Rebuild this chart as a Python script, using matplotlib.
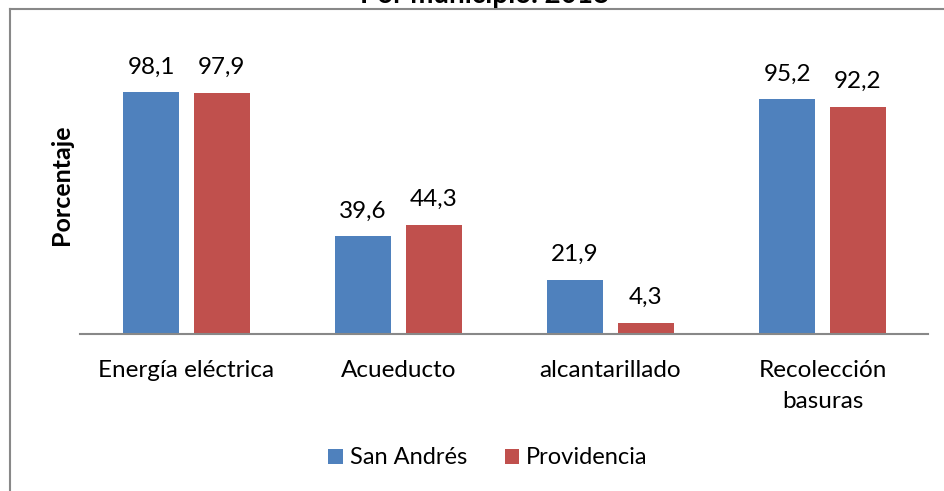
import matplotlib
matplotlib.use("Agg")
import matplotlib.pyplot as plt
from matplotlib.lines import Line2D
import numpy as np

categories = ["Energía eléctrica", "Acueducto", "alcantarillado", "Recolección\nbasuras"]
san_andres = [98.1, 39.6, 21.9, 95.2]
providencia = [97.9, 44.3, 4.3, 92.2]
series_names = ["San Andrés", "Providencia"]

plt.rcParams["font.family"] = ["Lato", "DejaVu Sans"]

W, H = 945, 491
fig = plt.figure(figsize=(W / 100, H / 100), dpi=100)
ax = fig.add_axes([80.5 / W, (H - 333.5) / H, 848 / W, 295 / H])

x = np.arange(len(categories))
bw = 0.265
off = 0.167
b1 = ax.bar(x - off, san_andres, bw, color="#4F81BD", label=series_names[0])
b2 = ax.bar(x + off, providencia, bw, color="#C0504D", label=series_names[1])

for bars, vals in ((b1, san_andres), (b2, providencia)):
    for rect, v in zip(bars, vals):
        ax.annotate(f"{v:.1f}".replace(".", ","),
                    (rect.get_x() + rect.get_width() / 2, v),
                    xytext=(0, 13.5), textcoords="offset points",
                    ha="center", va="baseline", fontsize=17.5)

ax.set_xlim(-0.5, 3.5)
ax.set_ylim(0, 120)
ax.set_yticks([])
ax.set_xticks(x)
ax.set_xticklabels(categories, fontsize=17.5, linespacing=1.6)
ax.tick_params(axis="x", length=0, pad=19)
for s in ("top", "right", "left"):
    ax.spines[s].set_visible(False)
ax.spines["bottom"].set_color("#888888")
ax.spines["bottom"].set_linewidth(1.5)

fig.text(62 / W, 1 - 185 / H, "Porcentaje", rotation=90, ha="center", va="center",
         fontsize=18, fontweight="bold")

fig.text(485 / W, 1 - 2.5 / H, "Por municipio. 2018", ha="center", va="baseline",
         fontsize=20, fontweight="bold")

# chart frame (only top and left edges fall inside the picture)
fig.add_artist(Line2D([10 / W, 1.0], [1 - 9 / H, 1 - 9 / H], transform=fig.transFigure,
                      color="#888888", lw=1.5))
fig.add_artist(Line2D([10 / W, 10 / W], [1 - 9 / H, 0.0], transform=fig.transFigure,
                      color="#888888", lw=1.5))

fig.legend(handles=[b1, b2], loc="center", bbox_to_anchor=(488 / W, 1 - 458 / H),
           ncol=2, frameon=False, fontsize=17, handlelength=0.6, handleheight=0.6,
           handletextpad=0.3, columnspacing=1.6)

fig.savefig("out.png", dpi=100)
